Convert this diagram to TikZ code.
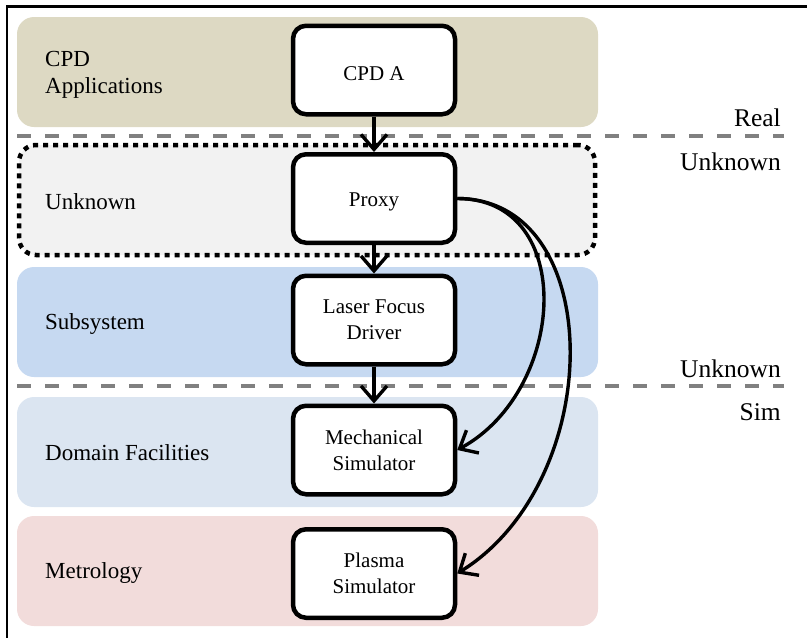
\documentclass[tikz,border=0pt]{standalone}
\usepackage{fontspec}
\setmainfont{Liberation Serif}
\usepackage{tikz}
\usetikzlibrary{arrows.meta}
\definecolor{tan}{HTML}{DDD9C3}
\definecolor{fog}{HTML}{F2F2F2}
\definecolor{sky}{HTML}{C6D9F1}
\definecolor{pale}{HTML}{DBE5F1}
\definecolor{rose}{HTML}{F2DCDB}
\definecolor{rule}{HTML}{808080}
\tikzset{
  band/.style={draw=none, rounded corners=17pt, minimum width=581pt, minimum height=110pt, inner sep=0pt},
  blk/.style={draw=black, fill=white, line width=4.5pt, rounded corners=13pt, minimum width=162pt, minimum height=88.5pt, inner sep=0pt, align=center, font=\fontsize{21}{26}\selectfont},
  one/.style={text height=21pt},
  flow/.style={draw=black, line width=3.4pt, -{Straight Barb[length=15pt,width=26pt]}},
  sep/.style={draw=rule, line width=3.5pt, dash pattern=on 14pt off 14pt},
  lab/.style={anchor=west, align=left, inner sep=0pt, font=\fontsize{23}{27}\selectfont},
  side/.style={anchor=base east, inner sep=0pt, font=\fontsize{25.5}{30}\selectfont},
}

\begin{document}
\begin{tikzpicture}[x=1pt,y=-1pt]
  \useasboundingbox (0,0) rectangle (807,638);
  % frame
  \draw[line width=2.7pt] (7,640) -- (7,6.3) -- (809,6.3);
  % layers
  \node[band, fill=tan] (appsband) at (307.5,72) {};
  \node[band, fill=fog, draw=black, line width=4.5pt, dash pattern=on 5pt off 5pt,
        minimum width=576pt] (unkband) at (307,200) {};
  \node[band, fill=sky] (subband) at (307.5,322) {};
  \node[band, fill=pale] (domband) at (307.5,452) {};
  \node[band, fill=rose] (metband) at (307.5,571) {};
  \node[lab] (appslab) at (45,75) {CPD\\Applications};
  \node[lab] (unklab) at (45,202) {Unknown};
  \node[lab] (sublab) at (45,324) {Subsystem};
  \node[lab] (domlab) at (45,453) {Domain Facilities};
  \node[lab] (metlab) at (45,573) {Metrology};
  % boundaries
  \coordinate (s1a) at (17,136);
  \coordinate (s1b) at (784,136);
  \coordinate (s2a) at (17,386);
  \coordinate (s2b) at (784,386);
  \draw[sep] (s1a) -- (s1b);
  \draw[sep] (s2a) -- (s2b);
  \node[side] (real) at (781,126) {Real};
  \node[side] (unkup) at (781,170) {Unknown};
  \node[side] (unklow) at (781,377) {Unknown};
  \node[side] (sim) at (781,420) {Sim};
  % components
  \node[blk, one] (cpd) at (374,70) {CPD A};
  \node[blk, one] (proxy) at (374,198.5) {Proxy};
  \node[blk] (laser) at (374,320) {Laser Focus\\Driver};
  \node[blk] (mech) at (374,450) {Mechanical\\Simulator};
  \node[blk] (plasma) at (374,573.5) {Plasma\\Simulator};
  \draw[flow] (cpd) -- (proxy);
  \draw[flow] (proxy) -- (laser);
  \draw[flow] (laser) -- (mech);
  \draw[flow] (proxy.east) .. controls +(120,0) and +(110,-60) .. (mech.east);
  \draw[flow] (proxy.east) .. controls +(150,0) and +(150,-93) .. (plasma.east);
\end{tikzpicture}
\end{document}
